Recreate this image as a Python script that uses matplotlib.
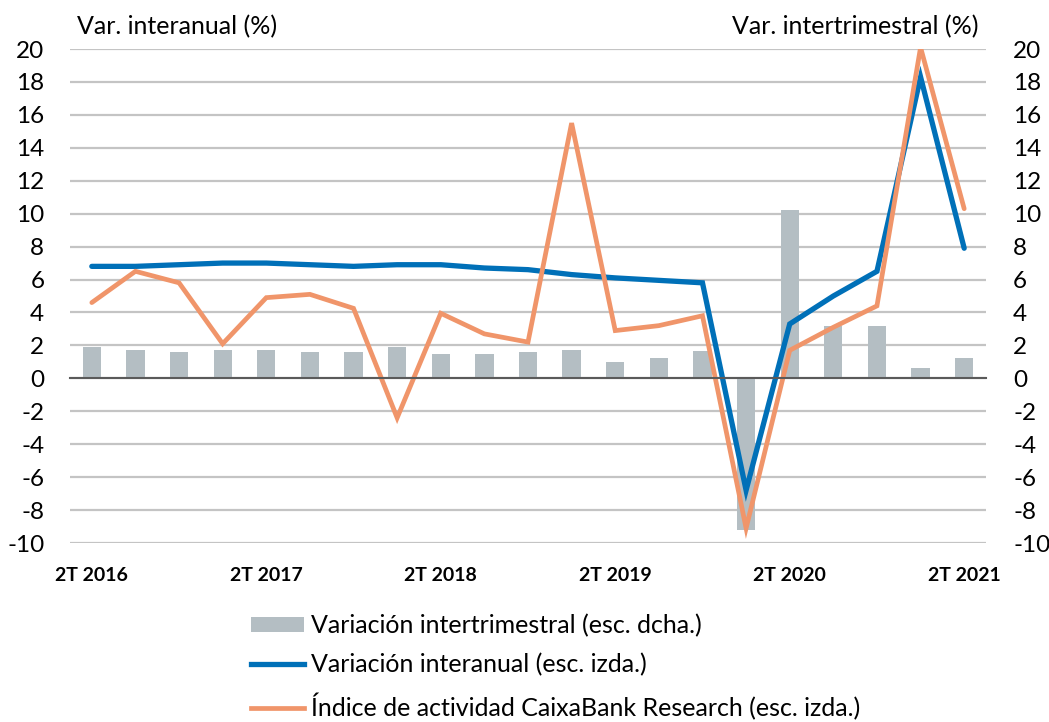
import matplotlib
matplotlib.use("Agg")
import matplotlib.pyplot as plt
from matplotlib.patches import Patch
from matplotlib.lines import Line2D

plt.rcParams['font.family'] = ['Lato', 'DejaVu Sans']
plt.rcParams['axes.unicode_minus'] = False

# trimestres 2T 2016 .. 2T 2021
quarters = ['2T 2016', '3T 2016', '4T 2016', '1T 2017', '2T 2017', '3T 2017', '4T 2017',
            '1T 2018', '2T 2018', '3T 2018', '4T 2018', '1T 2019', '2T 2019', '3T 2019',
            '4T 2019', '1T 2020', '2T 2020', '3T 2020', '4T 2020', '1T 2021', '2T 2021']
shown_labels = ['2T 2016', '2T 2017', '2T 2018', '2T 2019', '2T 2020', '2T 2021']

intertrimestral = [1.9, 1.75, 1.6, 1.75, 1.75, 1.6, 1.6, 1.9, 1.5, 1.5, 1.6, 1.75,
                   1.0, 1.25, 1.65, -9.2, 10.2, 3.2, 3.2, 0.65, 1.25]
interanual = [6.8, 6.8, 6.9, 7.0, 7.0, 6.9, 6.8, 6.9, 6.9, 6.7, 6.6, 6.3,
              6.1, 5.95, 5.8, -6.8, 3.3, 5.0, 6.5, 18.3, 7.9]
indice = [4.6, 6.5, 5.8, 2.1, 4.9, 5.1, 4.25, -2.4, 3.95, 2.7, 2.2, 15.5,
          2.9, 3.2, 3.8, -9.1, 1.7, 3.1, 4.4, 20.1, 10.3]

BLUE = '#0070B8'
ORANGE = '#F0956A'
GREY = '#B4BEC3'

fig = plt.figure(figsize=(10.49, 7.22), dpi=100)
ax = fig.add_axes([70/1049, (722-543)/722, (986-70)/1049, (543-49)/722])
ax2 = ax.twinx()
ax.set_zorder(ax2.get_zorder() + 1)
ax.patch.set_visible(False)

x = list(range(len(quarters)))

# barras en eje derecho
ax2.bar(x, intertrimestral, width=0.42, color=GREY, zorder=2)
ax2.set_axisbelow(True)
ax2.yaxis.grid(True, color='#C4C4C4', linewidth=1.6)

ax.plot(x, interanual, color=BLUE, linewidth=3.8, solid_capstyle='round', solid_joinstyle='miter')
ax.plot(x, indice, color=ORANGE, linewidth=3.4, solid_capstyle='round', solid_joinstyle='miter')

for a in (ax, ax2):
    a.set_ylim(-10, 20)
    a.set_yticks(range(-10, 21, 2))
    a.set_xlim(-0.5, len(quarters) - 0.5)
    for s in ['top', 'left', 'right']:
        a.spines[s].set_visible(False)
    a.tick_params(axis='y', length=0, labelsize=17.5, colors='black')

ax.tick_params(axis='y', pad=18.5)
ax2.tick_params(axis='y', pad=19.5)
ax2.spines['bottom'].set_visible(False)

ax.spines['bottom'].set_position(('data', 0))
ax.spines['bottom'].set_color('#5A5A5A')
ax.spines['bottom'].set_linewidth(1.5)
ax.set_xticks([i - 0.5 for i in range(len(quarters) + 1)])
ax.set_xticklabels([])
ax.tick_params(axis='x', direction='in', length=7, width=1.5, color='#5A5A5A')
ax2.set_xticks([])

for i, q in enumerate(quarters):
    if q in shown_labels:
        ax.text(i, -0.065, q, transform=ax.get_xaxis_transform(), ha='center', va='center',
                fontsize=14, fontweight='bold')

fig.text(77/1049, 1 - 27/722, 'Var. interanual (%)', fontsize=18, ha='left', va='center')
fig.text(978/1049, 1 - 27/722, 'Var. intertrimestral (%)', fontsize=18, ha='right', va='center')

handles = [Patch(facecolor=GREY, edgecolor='none'),
           Line2D([0], [0], color=BLUE, linewidth=3.8),
           Line2D([0], [0], color=ORANGE, linewidth=3.4)]
labels = ['Variación intertrimestral (esc. dcha.)',
          'Variación interanual (esc. izda.)',
          'Índice de actividad CaixaBank Research (esc. izda.)']
fig.legend(handles, labels, loc='upper left', bbox_to_anchor=(251/1049, 1 - 614/722),
           frameon=False, fontsize=18, handlelength=2.1, handleheight=0.55,
           handletextpad=0.3, labelspacing=0.64, borderaxespad=0, borderpad=0)

fig.savefig('out.png', dpi=100)
